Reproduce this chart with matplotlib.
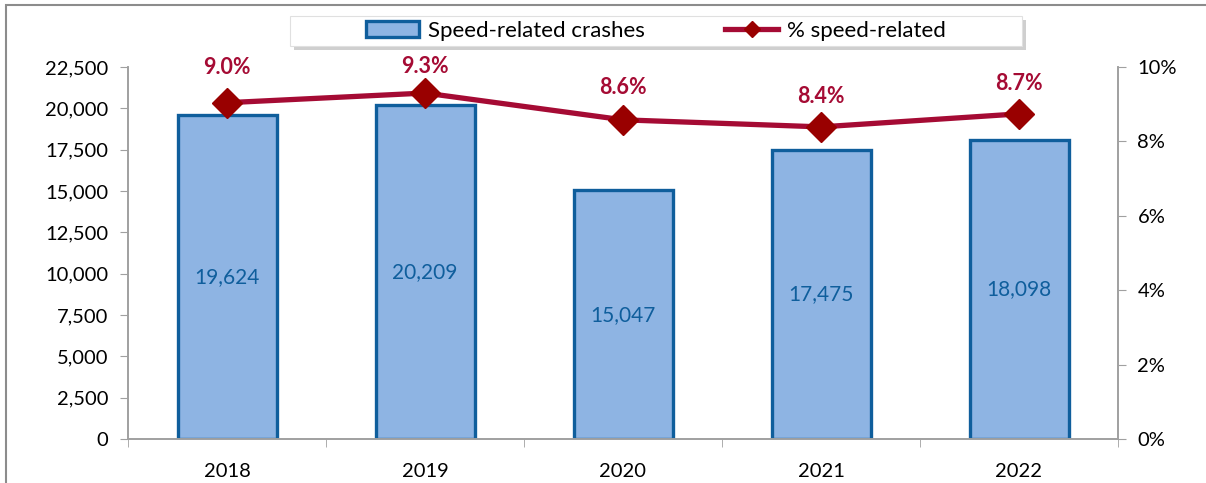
import matplotlib
matplotlib.use("Agg")
import matplotlib.pyplot as plt
from matplotlib.patches import Rectangle, Patch
from matplotlib.lines import Line2D
from matplotlib.ticker import FuncFormatter, FixedLocator

plt.rcParams['font.family'] = ['Lato', 'DejaVu Sans']

# data
years = ['2018', '2019', '2020', '2021', '2022']
crashes = [19624, 20209, 15047, 17475, 18098]
pct = [9.04, 9.30, 8.58, 8.39, 8.74]
pct_labels = ['9.0%', '9.3%', '8.6%', '8.4%', '8.7%']
label_offsets = [25, 19, 23, 22, 22]  # points above the marker (Excel nudged them)

bar_fill = '#8EB4E3'
bar_edge = '#0F5E9C'
line_col = '#A50B34'
mark_col = '#990000'
axis_col = '#A0A0A0'

fig = plt.figure(figsize=(12.06, 4.83), dpi=100)
ax = fig.add_axes([128/1206, 1 - 439/483, 990/1206, 372/483])
ax2 = ax.twinx()

x = list(range(len(years)))
ax.bar(x, crashes, width=0.5, color=bar_fill, edgecolor=bar_edge, linewidth=2.4, zorder=2)
for xi, v in zip(x, crashes):
    ax.text(xi, v / 2, f'{v:,}', ha='center', va='center', fontsize=15, color=bar_edge, zorder=3)

ax.set_xlim(-0.5, len(years) - 0.5)
ax.set_ylim(0, 22500)
ax.set_yticks(range(0, 22501, 2500))
ax.yaxis.set_major_formatter(FuncFormatter(lambda v, p: f'{int(v):,}'))
ax.set_xticks(x)
ax.set_xticklabels(years)
ax.xaxis.set_minor_locator(FixedLocator([i - 0.5 for i in range(len(years) + 1)]))
ax.tick_params(axis='x', which='major', length=0, pad=17, labelsize=14.5)
ax.tick_params(axis='x', which='minor', length=6, color=axis_col, direction='out')
ax.tick_params(axis='y', length=6, color=axis_col, labelsize=14.5, pad=8)

ax2.plot(x, pct, color=line_col, linewidth=3.8, marker='D', markersize=15,
         markerfacecolor=mark_col, markeredgecolor=mark_col, zorder=5)
for xi, v, lab, off in zip(x, pct, pct_labels, label_offsets):
    ax2.annotate(lab, (xi, v), xytext=(0, off), textcoords='offset points', ha='center',
                 va='center', fontsize=15.5, fontweight='bold', color=line_col)
ax2.set_ylim(0, 10)
ax2.set_yticks(range(0, 11, 2))
ax2.yaxis.set_major_formatter(FuncFormatter(lambda v, p: f'{int(v)}%'))
ax2.tick_params(axis='y', length=6, color=axis_col, labelsize=14.5, pad=8)

for a in (ax, ax2):
    a.spines['top'].set_visible(False)
    for s in ('left', 'right', 'bottom'):
        a.spines[s].set_color(axis_col)
        a.spines[s].set_linewidth(1.2)
ax2.set_zorder(ax.get_zorder() + 1)
ax2.patch.set_visible(False)

# outer chart border
fig.patches.append(Rectangle((6/1206, -0.1), 1.2, 1 - 5/483 + 0.1, transform=fig.transFigure,
                             fill=False, edgecolor='#8C8C8C', linewidth=1.5, clip_on=False))

# legend box with a shadow
lx0, lx1, ly0, ly1 = 290/1206, 1022/1206, 1 - 46/483, 1 - 16/483
fig.patches.append(Rectangle((lx0 + 4/1206, ly0 - 4/483), lx1 - lx0, ly1 - ly0,
                             transform=fig.transFigure, facecolor='#B0B0B0', edgecolor='none', alpha=0.6))
fig.patches.append(Rectangle((lx0, ly0), lx1 - lx0, ly1 - ly0, transform=fig.transFigure,
                             facecolor='white', edgecolor='#E0E0E0', linewidth=0.8))
handles = [Patch(facecolor=bar_fill, edgecolor=bar_edge, linewidth=2.4),
           Line2D([0], [0], color=line_col, linewidth=3.8, marker='D', markersize=8,
                  markerfacecolor=mark_col, markeredgecolor=mark_col)]
fig.legend(handles, ['Speed-related crashes', '% speed-related'], loc='center',
           bbox_to_anchor=((lx0 + lx1) / 2, (ly0 + ly1) / 2), ncol=2, frameon=False,
           fontsize=16, handlelength=2.4, handletextpad=0.4, columnspacing=3.6)

fig.savefig('out.png', dpi=100)
